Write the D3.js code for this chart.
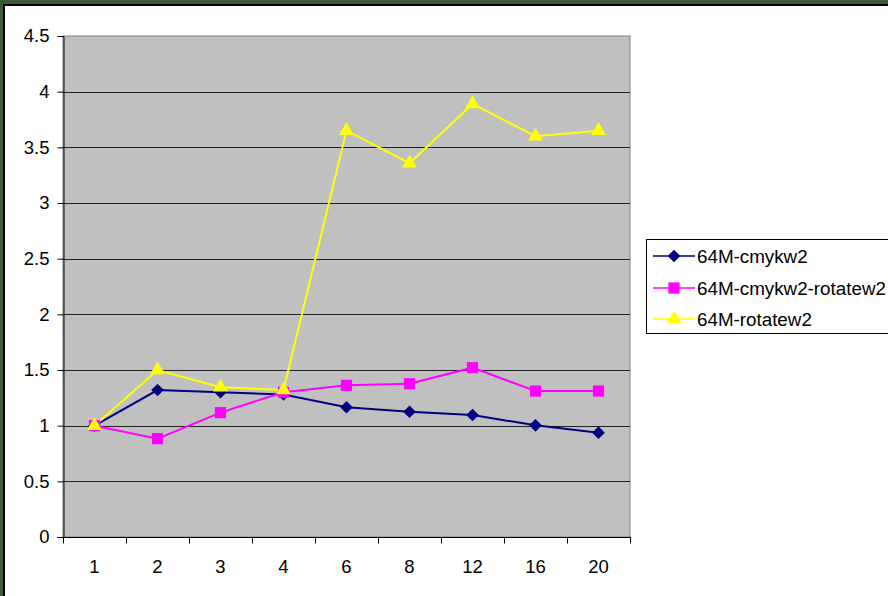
<!DOCTYPE html>
<html>
<head>
<meta charset="utf-8">
<script src="https://cdn.jsdelivr.net/npm/d3@7"></script>
<style>
  html, body { margin: 0; padding: 0; background: #ffffff; }
  svg { display: block; }
  text { font-family: "Liberation Sans", Arial, sans-serif; fill: #000; }
</style>
</head>
<body>
<svg id="chart" width="888" height="596"></svg>
<script>
// Thread counts along the x axis
const categories = ["1", "2", "3", "4", "6", "8", "12", "16", "20"];
const seriesNames = ["64M-cmykw2", "64M-cmykw2-rotatew2", "64M-rotatew2"];
// Speed-up relative to one thread
const cmykw2 = [1.0, 1.32, 1.30, 1.28, 1.165, 1.125, 1.096, 1.003, 0.937];
const cmykw2Rotatew2 = [1.0, 0.883, 1.117, 1.30, 1.362, 1.377, 1.521, 1.311, 1.311];
const rotatew2 = [1.0, 1.50, 1.345, 1.32, 3.65, 3.357, 3.89, 3.60, 3.65];
const yTicks = [0, 0.5, 1, 1.5, 2, 2.5, 3, 3.5, 4, 4.5];

const series = [
  { name: seriesNames[0], values: cmykw2, color: "#000080", shape: d3.symbolSquare, size: 80, rotate: 45 },
  { name: seriesNames[1], values: cmykw2Rotatew2, color: "#ff00ff", shape: d3.symbolSquare, size: 125, rotate: 0 },
  { name: seriesNames[2], values: rotatew2, color: "#ffff00", shape: d3.symbolTriangle, size: 95, rotate: 0 }
];

const svg = d3.select("#chart");
const W = 888, H = 596;

// Frame: green band with a dark inner edge on top and left
svg.append("rect").attr("x", 0).attr("y", 0).attr("width", W).attr("height", H).attr("fill", "#3c5a38");
svg.append("rect").attr("x", 3).attr("y", 4).attr("width", W).attr("height", H).attr("fill", "#000");
svg.append("rect").attr("x", 5).attr("y", 6).attr("width", W).attr("height", H).attr("fill", "#fff");

const plot = { left: 63, top: 36, right: 630, bottom: 537 };

const x = d3.scaleBand().domain(categories).range([plot.left, plot.right]).padding(0);
const y = d3.scaleLinear().domain([0, 4.5]).range([plot.bottom, plot.top]);

// Plot area background
svg.append("rect")
  .attr("x", plot.left).attr("y", plot.top)
  .attr("width", plot.right - plot.left).attr("height", plot.bottom - plot.top)
  .attr("fill", "#c0c0c0").attr("stroke", "#808080").attr("stroke-width", 1);

// Gridlines
svg.append("g").selectAll("line")
  .data(yTicks.filter(t => t > 0 && t < 4.5))
  .join("line")
  .attr("x1", plot.left).attr("x2", plot.right)
  .attr("y1", d => Math.round(y(d)) + 0.5).attr("y2", d => Math.round(y(d)) + 0.5)
  .attr("stroke", "#222").attr("stroke-width", 1);

// Y axis
const yAxis = svg.append("g")
  .attr("transform", `translate(${plot.left + 0.5},0)`)
  .call(d3.axisLeft(y).tickValues(yTicks).tickFormat(d3.format("")).tickSize(6).tickPadding(8));
yAxis.select(".domain").attr("stroke", "#000");
yAxis.selectAll(".tick line").attr("stroke", "#000");
yAxis.selectAll(".tick text").attr("font-size", 18.5).attr("font-family", "Liberation Sans, Arial, sans-serif").attr("fill", "#000");

// X axis: ticks sit on category boundaries, labels at centers
const xAxisG = svg.append("g").attr("transform", `translate(0,${plot.bottom + 0.5})`);
xAxisG.append("line")
  .attr("x1", plot.left).attr("x2", plot.right + 1)
  .attr("stroke", "#000");
const boundaries = categories.map(c => x(c)).concat([x(categories[categories.length - 1]) + x.bandwidth()]);
xAxisG.selectAll("line.tk").data(boundaries).join("line")
  .attr("class", "tk")
  .attr("x1", d => Math.round(d) + 0.5).attr("x2", d => Math.round(d) + 0.5)
  .attr("y1", 0).attr("y2", 6).attr("stroke", "#000");
xAxisG.selectAll("text").data(categories).join("text")
  .attr("x", d => x(d) + x.bandwidth() / 2)
  .attr("y", 35.5)
  .attr("text-anchor", "middle")
  .attr("font-size", 18.5)
  .text(d => d);

// Lines and markers
const line = d3.line()
  .x((d, i) => x(categories[i]) + x.bandwidth() / 2)
  .y(d => y(d));

series.forEach(s => {
  svg.append("path")
    .datum(s.values)
    .attr("d", line)
    .attr("fill", "none")
    .attr("stroke", s.color)
    .attr("stroke-width", 2);
});
series.forEach(s => {
  svg.append("g").selectAll("path")
    .data(s.values)
    .join("path")
    .attr("transform", (d, i) => `translate(${x(categories[i]) + x.bandwidth() / 2},${y(d)}) rotate(${s.rotate})`)
    .attr("d", d3.symbol().type(s.shape).size(s.size))
    .attr("fill", s.color);
});

// Legend
const legend = svg.append("g");
legend.append("rect")
  .attr("x", 646.5).attr("y", 239.5).attr("width", 260).attr("height", 94)
  .attr("fill", "#fff").attr("stroke", "#000").attr("stroke-width", 1);
const legendY = [256, 288, 319];
series.forEach((s, i) => {
  const g = legend.append("g").attr("transform", `translate(0,${legendY[i]})`);
  g.append("line").attr("x1", 653).attr("x2", 695).attr("y1", 0).attr("y2", 0)
    .attr("stroke", s.color).attr("stroke-width", 1.5);
  g.append("path").attr("transform", `translate(674,0) rotate(${s.rotate})`)
    .attr("d", d3.symbol().type(s.shape).size(s.size)).attr("fill", s.color);
  g.append("text").attr("x", 697).attr("y", 6.5).attr("font-size", 18.8).text(s.name);
});
</script>
</body>
</html>
